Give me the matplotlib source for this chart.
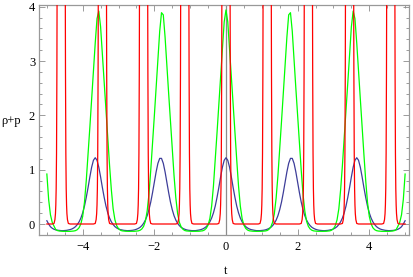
import numpy as np
import matplotlib
matplotlib.use("Agg")
import matplotlib.pyplot as plt
from matplotlib.ticker import MultipleLocator

# sample grid for the two smooth curves (t from -5 to 5, step 0.05)
t_grid = np.round(np.linspace(-5, 5, 201), 3)

blue_vals = [
    0.06, 0.0, -0.05, -0.078, -0.097, -0.108, -0.115, -0.119, -0.122, -0.123, -0.121,
    -0.117, -0.111, -0.103, -0.091, -0.073, -0.048, -0.01, 0.04, 0.11, 0.205,
    0.33, 0.49, 0.67, 0.866, 1.045, 1.173, 1.22, 1.173, 1.045, 0.866,
    0.67, 0.49, 0.33, 0.205, 0.11, 0.04, -0.01, -0.048, -0.073, -0.091,
    -0.103, -0.111, -0.117, -0.121, -0.123, -0.122, -0.119, -0.115, -0.108, -0.097,
    -0.082, -0.062, -0.031, 0.012, 0.072, 0.153, 0.264, 0.404, 0.577, 0.768,
    0.959, 1.117, 1.208, 1.208, 1.117, 0.959, 0.768, 0.577, 0.404, 0.264,
    0.153, 0.072, 0.012, -0.031, -0.062, -0.082, -0.097, -0.108, -0.115, -0.119,
    -0.122, -0.123, -0.122, -0.117, -0.111, -0.103, -0.091, -0.073, -0.048, -0.01,
    0.04, 0.11, 0.205, 0.33, 0.49, 0.67, 0.866, 1.045, 1.173,
    1.22,
    1.173, 1.045, 0.866, 0.67, 0.49, 0.33, 0.205, 0.11, 0.04,
    -0.01, -0.048, -0.073, -0.091, -0.103, -0.111, -0.117, -0.122, -0.123, -0.122,
    -0.119, -0.115, -0.108, -0.097, -0.082, -0.062, -0.031, 0.012, 0.072, 0.153,
    0.264, 0.404, 0.577, 0.768, 0.959, 1.117, 1.208, 1.208, 1.117, 0.959,
    0.768, 0.577, 0.404, 0.264, 0.153, 0.072, 0.012, -0.031, -0.062, -0.082,
    -0.097, -0.108, -0.115, -0.119, -0.122, -0.123, -0.121, -0.117, -0.111, -0.103,
    -0.091, -0.073, -0.048, -0.01, 0.04, 0.11, 0.205, 0.33, 0.49, 0.67,
    0.866, 1.045, 1.173, 1.22, 1.173, 1.045, 0.866, 0.67, 0.49, 0.33,
    0.205, 0.11, 0.04, -0.01, -0.048, -0.073, -0.091, -0.103, -0.111, -0.117,
    -0.121, -0.123, -0.122, -0.119, -0.115, -0.108, -0.097, -0.078, -0.05, 0.0,
    0.06,
]

green_vals = [
    0.92, 0.45, 0.17, 0.03, -0.04, -0.104, -0.122, -0.129, -0.132, -0.135, -0.135,
    -0.135, -0.135, -0.135, -0.132, -0.129, -0.122, -0.104, -0.068, 0.004, 0.14,
    0.40, 0.80, 1.28, 1.78, 2.30, 2.80, 3.33, 3.78, 3.92, 3.63,
    3.12, 2.60, 2.10, 1.58, 1.08, 0.63, 0.28, 0.076, -0.032, -0.086,
    -0.113, -0.126, -0.13, -0.133, -0.135, -0.135, -0.135, -0.135, -0.134, -0.131,
    -0.127, -0.116, -0.092, -0.044, 0.05, 0.24, 0.55, 0.99, 1.48, 1.99,
    2.50, 3.01, 3.55, 3.89, 3.85, 3.44, 2.91, 2.40, 1.89, 1.38,
    0.89, 0.48, 0.19, 0.028, -0.056, -0.098, -0.12, -0.128, -0.131, -0.134,
    -0.135, -0.135, -0.135, -0.135, -0.133, -0.13, -0.125, -0.11, -0.08, -0.02,
    0.10, 0.33, 0.70, 1.18, 1.68, 2.20, 2.70, 3.22, 3.72,
    3.94,
    3.72, 3.22, 2.70, 2.20, 1.68, 1.18, 0.70, 0.33, 0.10,
    -0.02, -0.08, -0.11, -0.125, -0.13, -0.133, -0.135, -0.135, -0.135, -0.135,
    -0.134, -0.131, -0.128, -0.12, -0.098, -0.056, 0.028, 0.19, 0.48, 0.89,
    1.38, 1.89, 2.40, 2.91, 3.44, 3.85, 3.89, 3.55, 3.01, 2.50,
    1.99, 1.48, 0.99, 0.55, 0.24, 0.05, -0.044, -0.092, -0.116, -0.127,
    -0.131, -0.134, -0.135, -0.135, -0.135, -0.135, -0.133, -0.13, -0.126, -0.113,
    -0.086, -0.032, 0.076, 0.28, 0.63, 1.08, 1.58, 2.10, 2.60, 3.12,
    3.63, 3.92, 3.78, 3.33, 2.80, 2.30, 1.78, 1.28, 0.80, 0.40,
    0.14, 0.004, -0.068, -0.104, -0.122, -0.129, -0.132, -0.135, -0.135, -0.135,
    -0.135, -0.135, -0.132, -0.129, -0.122, -0.104, -0.04, 0.03, 0.17, 0.45,
    0.92,
]

# red curve: flat at 0 with narrow spikes running off the top of the frame
red_t = [
    -5.0,
    -4.85, -4.80, -4.775, -4.76, -4.75, -4.74, -4.73, -4.72, -4.71, -4.70,
    -4.50, -4.49, -4.48, -4.47, -4.46, -4.45, -4.44, -4.425, -4.40, -4.35,
    -3.70, -3.65, -3.625, -3.61, -3.60, -3.59, -3.58, -3.57, -3.56, -3.55,
    -3.35, -3.34, -3.33, -3.32, -3.31, -3.30, -3.29, -3.275, -3.25, -3.20,
    -2.55, -2.50, -2.475, -2.46, -2.45, -2.44, -2.43, -2.42, -2.41, -2.40,
    -2.20, -2.19, -2.18, -2.17, -2.16, -2.15, -2.14, -2.125, -2.10, -2.05,
    -1.40, -1.35, -1.325, -1.31, -1.30, -1.29, -1.28, -1.27, -1.26, -1.25,
    -1.05, -1.04, -1.03, -1.02, -1.01, -1.00, -0.99, -0.975, -0.95, -0.90,
    -0.25, -0.20, -0.175, -0.16, -0.15, -0.14, -0.13, -0.12, -0.11, -0.10,
    0.10, 0.11, 0.12, 0.13, 0.14, 0.15, 0.16, 0.175, 0.20, 0.25,
    0.90, 0.95, 0.975, 0.99, 1.00, 1.01, 1.02, 1.03, 1.04, 1.05,
    1.25, 1.26, 1.27, 1.28, 1.29, 1.30, 1.31, 1.325, 1.35, 1.40,
    2.05, 2.10, 2.125, 2.14, 2.15, 2.16, 2.17, 2.18, 2.19, 2.20,
    2.40, 2.41, 2.42, 2.43, 2.44, 2.45, 2.46, 2.475, 2.50, 2.55,
    3.20, 3.25, 3.275, 3.29, 3.30, 3.31, 3.32, 3.33, 3.34, 3.35,
    3.55, 3.56, 3.57, 3.58, 3.59, 3.60, 3.61, 3.625, 3.65, 3.70,
    4.35, 4.40, 4.425, 4.44, 4.45, 4.46, 4.47, 4.48, 4.49, 4.50,
    4.70, 4.71, 4.72, 4.73, 4.74, 4.75, 4.76, 4.775, 4.80, 4.85,
    5.0,
]
red_vals = [
    0.0,
    0, 0.01, 0.08, 0.19, 0.35, 0.65, 1.3, 2.8, 5.5, 20,
    20, 5.5, 2.8, 1.3, 0.65, 0.35, 0.19, 0.08, 0.01, 0,
    0, 0.01, 0.08, 0.19, 0.35, 0.65, 1.3, 2.8, 5.5, 20,
    20, 5.5, 2.8, 1.3, 0.65, 0.35, 0.19, 0.08, 0.01, 0,
    0, 0.01, 0.08, 0.19, 0.35, 0.65, 1.3, 2.8, 5.5, 20,
    20, 5.5, 2.8, 1.3, 0.65, 0.35, 0.19, 0.08, 0.01, 0,
    0, 0.01, 0.08, 0.19, 0.35, 0.65, 1.3, 2.8, 5.5, 20,
    20, 5.5, 2.8, 1.3, 0.65, 0.35, 0.19, 0.08, 0.01, 0,
    0, 0.01, 0.08, 0.19, 0.35, 0.65, 1.3, 2.8, 5.5, 20,
    20, 5.5, 2.8, 1.3, 0.65, 0.35, 0.19, 0.08, 0.01, 0,
    0, 0.01, 0.08, 0.19, 0.35, 0.65, 1.3, 2.8, 5.5, 20,
    20, 5.5, 2.8, 1.3, 0.65, 0.35, 0.19, 0.08, 0.01, 0,
    0, 0.01, 0.08, 0.19, 0.35, 0.65, 1.3, 2.8, 5.5, 20,
    20, 5.5, 2.8, 1.3, 0.65, 0.35, 0.19, 0.08, 0.01, 0,
    0, 0.01, 0.08, 0.19, 0.35, 0.65, 1.3, 2.8, 5.5, 20,
    20, 5.5, 2.8, 1.3, 0.65, 0.35, 0.19, 0.08, 0.01, 0,
    0, 0.01, 0.08, 0.19, 0.35, 0.65, 1.3, 2.8, 5.5, 20,
    20, 5.5, 2.8, 1.3, 0.65, 0.35, 0.19, 0.08, 0.01, 0,
    0.0,
]

x_ticks = [-4, -2, 0, 2, 4]
y_ticks = [0, 1, 2, 3, 4]
x_label = "t"
y_label = "\u03c1+p"

plt.rcParams['font.family'] = ['Liberation Serif', 'DejaVu Serif']

fig = plt.figure(figsize=(4.13, 2.77), dpi=100)
ax = fig.add_axes([39.3 / 413, 1 - 235.3 / 277, 370.0 / 413, 230.0 / 277])

ax.axvline(0, color='0.55', lw=0.9, zorder=1)
ax.plot(t_grid, blue_vals, color='#3d3d99', lw=0.9, zorder=2)
ax.plot(t_grid, green_vals, color='#00ff00', lw=0.9, zorder=3)
ax.plot(red_t, red_vals, color='#ff0000', lw=0.9, zorder=4)

ax.set_xlim(-5.211, 5.117)
ax.set_ylim(-0.208, 4.026)
ax.set_xticks(x_ticks)
ax.set_yticks(y_ticks)
ax.xaxis.set_minor_locator(MultipleLocator(0.5))
ax.yaxis.set_minor_locator(MultipleLocator(0.2))

ax.tick_params(which='both', direction='in', top=True, right=True,
               color='0.55', width=0.6, labelsize=9)
ax.tick_params(which='major', length=4.5)
ax.tick_params(which='minor', length=2.5)
ax.tick_params(axis='x', which='major', pad=4)
ax.tick_params(axis='y', which='major', pad=3)
for s in ax.spines.values():
    s.set_color('0.6')
    s.set_linewidth(0.9)

fig.text(226 / 413, 1 - 271.5 / 277, x_label, ha='center', va='center', fontsize=9)
fig.text(21 / 413, 1 - 121 / 277, y_label, ha='right', va='center', fontsize=9)

fig.savefig('out.png', dpi=100)
